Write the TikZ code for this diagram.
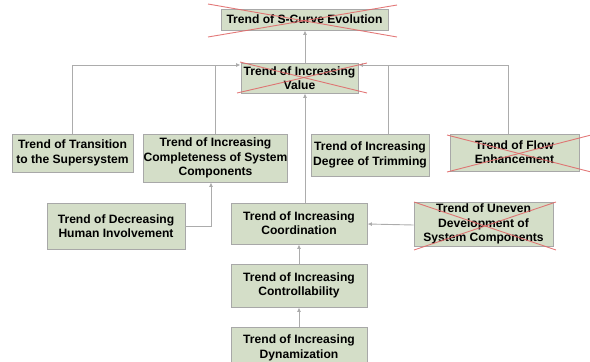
\documentclass[tikz,border=0pt]{standalone}
\usepackage{fontspec}
\setmainfont{Liberation Sans}
\usetikzlibrary{arrows.meta}
\definecolor{boxfill}{HTML}{D4DEC8}
\definecolor{boxline}{HTML}{A8A8A8}
\definecolor{conn}{HTML}{ACACAC}
\definecolor{cross}{HTML}{E06A6A}
\tikzset{
  trend/.style={draw=boxline, line width=0.9pt, fill=boxfill, align=center, inner sep=0pt,
    font=\fontsize{12.1}{14.3}\selectfont\bfseries, text=black},
  link/.style={draw=conn, line width=0.9pt},
  arr/.style={link, -{Latex[length=4.5pt,width=4pt]}},
  xline/.style={draw=cross, line width=0.9pt, opacity=0.9}
}
\begin{document}
\begin{tikzpicture}[x=1pt,y=-1pt]
\useasboundingbox (0,0) rectangle (590,362);
\begin{scope}
\clip (0,0) rectangle (590,362);
\node[trend, minimum width=167pt, minimum height=21pt] (S) at (304.5,19.5) {Trend of S-Curve Evolution};
\node[trend, minimum width=117pt, minimum height=30pt] (V) at (299.5,78) {Trend of Increasing\\Value};
\node[trend, minimum width=121pt, minimum height=38pt] (T) at (72.5,153) {Trend of Transition\\to the Supersystem};
\node[trend, minimum width=143pt, minimum height=48pt] (C) at (215.5,158) {Trend of Increasing\\Completeness of System\\Components};
\node[trend, minimum width=118pt, minimum height=42pt] (R) at (370,155) {Trend of Increasing\\Degree of Trimming};
\node[trend, minimum width=129pt, minimum height=37pt] (F) at (514.5,152.5) {Trend of Flow\\Enhancement};
\node[trend, minimum width=138pt, minimum height=46pt] (H) at (116,226) {Trend of Decreasing\\Human Involvement};
\node[trend, minimum width=136pt, minimum height=41pt] (K) at (299,223.5) {Trend of Increasing\\Coordination};
\node[trend, minimum width=139pt, minimum height=44pt] (U) at (483.5,224) {Trend of Uneven\\Development of\\System Components};
\node[trend, minimum width=136pt, minimum height=43pt] (L) at (299,285.5) {Trend of Increasing\\Controllability};
\node[trend, minimum width=136pt, minimum height=42pt] (D) at (299,348) {Trend of Increasing\\Dynamization};

\coordinate (vx) at (305,0);
\coordinate (top) at (0,65);
% connectors
\draw[arr] (V.north -| vx) -- (S.south -| vx);
\draw[arr] (K.north -| vx) -- (V.south -| vx);
\draw[arr] (T.north) -- (T.north |- top) -- (V.west |- top);
\draw[link] (C.north) -- (C.north |- top);
\draw[link] ([xshift=18pt]R.north) -- ([xshift=18pt]R.north |- top);
\draw[arr] ([xshift=-6.5pt]F.north) -- ([xshift=-6.5pt]F.north |- top) -- (V.east |- top);
\draw[arr] (H.east) -| ([xshift=-4.5pt]C.south);
\draw[arr] ([yshift=-1pt]U.west) -- ([yshift=-0.5pt]K.east);
\draw[arr] (L.north) -- (K.south);
\draw[arr] (D.north) -- (L.south);

% cross-outs
\draw[xline] (208,4) -- (397,37);
\draw[xline] (208,37) -- (397,5);
\draw[xline] (240,62) -- (367,93);
\draw[xline] (237,93) -- (367,63);
\draw[xline] (447,135) -- (595,173);
\draw[xline] (447,172) -- (595,134);
\draw[xline] (414,202) -- (556,250);
\draw[xline] (414,250) -- (556,202);
\end{scope}
\end{tikzpicture}
\end{document}
